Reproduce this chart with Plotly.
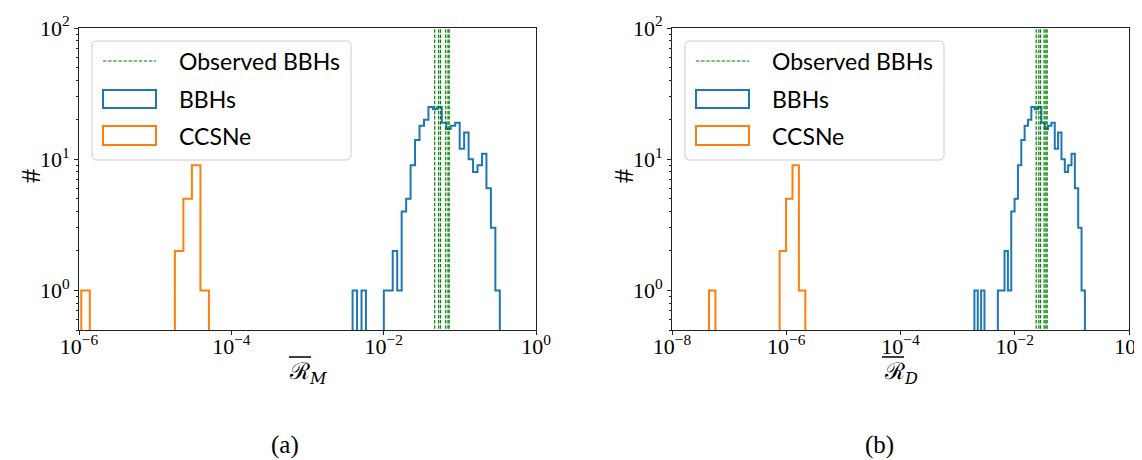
import numpy as np
import plotly.graph_objects as go

# ---------------- data ----------------
# counts per bin (same population counts in both panels)
bbh_counts = [1, 0, 1, 0, 0, 0, 0, 1, 1, 2, 1, 4, 5, 9, 14, 18, 20, 25, 24, 25,
              19, 17, 18, 19, 12, 16, 10, 8, 9, 11, 6, 3, 1]
ccsn_counts = [1, 0, 0, 0, 0, 0, 0, 0, 0, 0, 0, 2, 5, 9, 1]

# log10 bin ranges for each panel
bbh_range_a = (-2.408, -0.475)
ccsn_range_a = (-5.970, -4.294)
bbh_range_b = (-2.706, -0.772)
ccsn_range_b = (-7.352, -5.666)

# observed BBH values (vertical dashed lines)
obs_a = [0.0468, 0.0527, 0.0557, 0.0653, 0.0700, 0.0724]
obs_b = [0.0237, 0.0264, 0.0282, 0.0327, 0.0351, 0.0369]

xticks_a = [1e-6, 1e-4, 1e-2, 1e0]
xticks_b = [1e-8, 1e-6, 1e-4, 1e-2, 1e0]
xlabels_a = ["10<sup>−6</sup>", "10<sup>−4</sup>", "10<sup>−2</sup>", "10<sup>0</sup>"]
xlabels_b = ["10<sup>−8</sup>", "10<sup>−6</sup>", "10<sup>−4</sup>", "10<sup>−2</sup>", "10<sup>0</sup>"]
yticks = [1, 10, 100]
ylabels = ["10<sup>0</sup>", "10<sup>1</sup>", "10<sup>2</sup>"]
xlim_a = (-6, 0)
xlim_b = (-8, 0)
ylim = (0.5, 100)

# ---------------- styling ----------------
W, H = 1142, 460
BLUE = "#1f77b4"
ORANGE = "#ff7f0e"
GREEN = "#008000"
SERIF = "Liberation Serif"
SANS = "Lato"


def px(x):
    return x / W


def py(y):
    return 1 - y / H


def step_outline(counts, lrange):
    edges = np.logspace(lrange[0], lrange[1], len(counts) + 1)
    floor = 1e-3
    xs, ys = [edges[0]], [floor]
    for i, c in enumerate(counts):
        v = c if c > 0 else floor
        xs += [edges[i], edges[i + 1]]
        ys += [v, v]
    xs.append(edges[-1])
    ys.append(floor)
    return xs, ys


def vlines(vals):
    xs, ys = [], []
    for v in vals:
        xs += [v, v, None]
        ys += [ylim[0] * 0.1, ylim[1] * 10, None]
    return xs, ys


fig = go.Figure()

panels = [
    ("x", "y", bbh_range_a, ccsn_range_a, obs_a),
    ("x2", "y2", bbh_range_b, ccsn_range_b, obs_b),
]
for xa, ya, br, cr, obs in panels:
    x, y = step_outline(ccsn_counts, cr)
    fig.add_trace(go.Scatter(x=x, y=y, mode="lines", line=dict(color=ORANGE, width=2),
                             xaxis=xa, yaxis=ya, showlegend=False, hoverinfo="skip"))
    x, y = step_outline(bbh_counts, br)
    fig.add_trace(go.Scatter(x=x, y=y, mode="lines", line=dict(color=BLUE, width=2),
                             xaxis=xa, yaxis=ya, showlegend=False, hoverinfo="skip"))
    x, y = vlines(obs)
    fig.add_trace(go.Scatter(x=x, y=y, mode="lines",
                             line=dict(color=GREEN, width=1.2, dash="3.5px,1.6px"),
                             xaxis=xa, yaxis=ya, showlegend=False, hoverinfo="skip"))

axis_common = dict(type="log", showgrid=False, zeroline=False, showline=True, mirror=True,
                   automargin=False,
                   linecolor="#222", linewidth=1, ticks="outside", ticklen=4, tickcolor="#222",
                   tickfont=dict(family=SERIF, size=22, color="black"))
minor_y = [v * 10 ** k for k in (-1, 0, 1) for v in range(2, 10) if 0.5 <= v * 10 ** k <= 100]

fig.update_layout(
    width=W, height=H, margin=dict(l=0, r=0, t=0, b=0, autoexpand=False),
    paper_bgcolor="white", plot_bgcolor="white",
    xaxis=dict(axis_common, domain=[px(71), px(528)], anchor="y", ticklabelstandoff=-7,
               range=list(xlim_a), tickvals=xticks_a, ticktext=xlabels_a),
    yaxis=dict(axis_common, domain=[py(322), py(20)], anchor="x",
               range=[np.log10(ylim[0]), np.log10(ylim[1])], tickvals=yticks, ticktext=ylabels,
               minor=dict(tickvals=minor_y, ticks="outside", ticklen=2, tickcolor="#222")),
    xaxis2=dict(axis_common, domain=[px(664), px(1121)], anchor="y2", ticklabelstandoff=-7,
                range=list(xlim_b), tickvals=xticks_b, ticktext=xlabels_b),
    yaxis2=dict(axis_common, domain=[py(322), py(20)], anchor="x2",
                range=[np.log10(ylim[0]), np.log10(ylim[1])], tickvals=yticks, ticktext=ylabels,
                minor=dict(tickvals=minor_y, ticks="outside", ticklen=2, tickcolor="#222")),
)

shapes = []
annots = []


def rounded_rect(x0, y0, x1, y1, r=5):
    rx, ry = r / W, r / H
    X0, X1 = px(x0), px(x1)
    Y0, Y1 = py(y0), py(y1)  # Y0 top (larger), Y1 bottom
    return (f"M {X0+rx},{Y0} L {X1-rx},{Y0} Q {X1},{Y0} {X1},{Y0-ry} "
            f"L {X1},{Y1+ry} Q {X1},{Y1} {X1-rx},{Y1} L {X0+rx},{Y1} "
            f"Q {X0},{Y1} {X0},{Y1+ry} L {X0},{Y0-ry} Q {X0},{Y0} {X0+rx},{Y0} Z")


for off, yl_x, xl_text, xl_cx, ol in [
    (0, 22, "ℛ<sub><i>M</i></sub>", 300, (281, 303)),
    (593, 615, "ℛ<sub><i>D</i></sub>", 893, (874, 896)),
]:
    # legend frame
    shapes.append(dict(type="path", xref="paper", yref="paper",
                       path=rounded_rect(84 + off, 33, 343 + off, 152),
                       line=dict(color="#cccccc", width=1), fillcolor="rgba(255,255,255,0.8)"))
    shapes.append(dict(type="line", xref="paper", yref="paper",
                       x0=px(95 + off), x1=px(148 + off), y0=py(53), y1=py(53),
                       line=dict(color=GREEN, width=1.2, dash="3.5px,1.6px")))
    shapes.append(dict(type="rect", xref="paper", yref="paper",
                       x0=px(95 + off), x1=px(148 + off), y0=py(82), y1=py(100),
                       line=dict(color=BLUE, width=2)))
    shapes.append(dict(type="rect", xref="paper", yref="paper",
                       x0=px(95 + off), x1=px(148 + off), y0=py(118), y1=py(137),
                       line=dict(color=ORANGE, width=2)))
    for txt, yy in [("Observed BBHs", 53), ("BBHs", 91), ("CCSNe", 128)]:
        annots.append(dict(xref="paper", yref="paper", x=px(169 + off), y=py(yy),
                           xanchor="left", yanchor="middle", showarrow=False, text=txt,
                           font=dict(family=SANS, size=23, color="black")))
    # y label
    annots.append(dict(xref="paper", yref="paper", x=px(yl_x), y=py(168), text="#",
                       textangle=-90, showarrow=False, xanchor="center", yanchor="middle",
                       font=dict(family=SERIF, size=28, color="black")))
    # x label with overline
    annots.append(dict(xref="paper", yref="paper", x=px(xl_cx), y=py(365), text=xl_text,
                       showarrow=False, xanchor="center", yanchor="middle",
                       font=dict(family="DejaVu Serif", size=23, color="black")))
    shapes.append(dict(type="line", xref="paper", yref="paper",
                       x0=px(ol[0]), x1=px(ol[1]), y0=py(349), y1=py(349),
                       line=dict(color="black", width=1.5)))

annots.append(dict(xref="paper", yref="paper", x=px(277), y=py(437), text="(a)", showarrow=False,
                   xanchor="center", yanchor="middle", font=dict(family=SERIF, size=25, color="black")))
annots.append(dict(xref="paper", yref="paper", x=px(871), y=py(437), text="(b)", showarrow=False,
                   xanchor="center", yanchor="middle", font=dict(family=SERIF, size=25, color="black")))

fig.update_layout(shapes=shapes, annotations=annots)
fig.write_html("out.html")
